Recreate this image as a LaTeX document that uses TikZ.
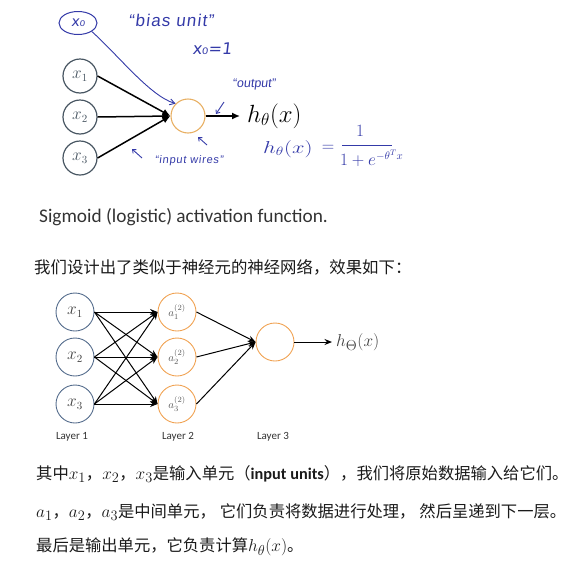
\documentclass[tikz,border=0pt]{standalone}
\usepackage{fontspec}
\usepackage{amsmath}
\newfontfamily\cjk{Noto Sans CJK SC}
\newfontfamily\calibri{Carlito}
\newfontfamily\hand[FakeSlant=0.12]{Liberation Sans}
\newfontfamily\handw[FakeSlant=0.12,LetterSpace=7]{Liberation Sans}
\newfontfamily\handd[FakeSlant=0.12]{DejaVu Sans}
\newcommand{\mth}[1]{{\fontsize{19}{19}\selectfont$#1$}}
\usetikzlibrary{arrows.meta,shapes.geometric}
\definecolor{handblue}{RGB}{52,58,168}
\definecolor{slate}{RGB}{72,86,98}
\definecolor{topor}{RGB}{232,176,100}
\definecolor{l1blue}{RGB}{84,108,140}
\definecolor{orng}{RGB}{240,162,82}
\definecolor{txt}{RGB}{26,26,26}
\tikzset{
  topin/.style={circle, draw=slate, line width=1.2pt, minimum size=34pt, inner sep=0pt, text=slate, font=\fontsize{16}{16}\selectfont},
  topneuron/.style={circle, draw=topor, line width=1.1pt, minimum size=34pt, inner sep=0pt},
  toparrow/.style={line width=1.5pt, -{Latex[length=8pt,width=7pt]}},
  handline/.style={draw=handblue, line width=0.9pt},
  handtext/.style={text=handblue, inner sep=0pt},
  inl/.style={circle, draw=l1blue, line width=0.9pt, minimum size=38pt, inner sep=0pt, text=black!75, font=\fontsize{16}{16}\selectfont},
  hid/.style={circle, draw=orng, line width=0.9pt, minimum size=38pt, inner sep=0pt, text=black!65, font=\fontsize{11}{11}\selectfont},
  net/.style={line width=1pt, -{Stealth[length=7.5pt,width=6pt]}},
  layerlbl/.style={font=\calibri\fontsize{11}{11}\selectfont, text=black!80, inner sep=0pt},
  line/.style={anchor=west, inner sep=0pt, text=txt, font=\cjk\fontsize{16.3}{18}\selectfont},
}
\begin{document}
\begin{tikzpicture}[x=1pt,y=-1pt]
\useasboundingbox (0,0) rectangle (570,560);
% ---------- top hand-annotated figure ----------
\node[ellipse, draw=handblue, line width=1pt, minimum width=38pt, minimum height=23pt, inner sep=0pt, text=handblue, font=\handd\fontsize{14}{14}\selectfont] (x0) at (78,23) {x₀};
\node[topin] (t1) at (80,76) {$x_1$};
\node[topin] (t2) at (80,117) {$x_2$};
\node[topin] (t3) at (80,158) {$x_3$};
\node[topneuron] (n) at (188,116) {};
\draw[toparrow] (t1.east) -- (n.west);
\draw[toparrow] (t2.east) -- (n.west);
\draw[toparrow] (t3.east) -- (n.west);
\coordinate (hout) at (240,116);
\draw[toparrow] (n.east) -- (hout);
\node[anchor=west, inner sep=0pt, font=\fontsize{25}{25}\selectfont] (hth) at (247,116) {$h_\theta(x)$};
\draw[handline, -{Straight Barb[length=5pt,width=6pt]}] (x0.south east) .. controls (118,55) and (150,96) .. (n.north west);
\node[handtext, font=\handw\fontsize{17}{17}\selectfont] (bias) at (171,20) {“bias unit”};
\node[handtext, font=\handd\fontsize{16}{16}\selectfont] (xeq) at (212,49) {x₀=1};
\node[handtext, font=\hand\fontsize{12.5}{12.5}\selectfont] (outl) at (254,84) {“output”};
\coordinate (oa1) at (224,102); \coordinate (oa2) at (216,114);
\draw[handline, -{Straight Barb[length=3pt,width=5pt]}] (oa1) -- (oa2);
\coordinate (ia1) at (207,145); \coordinate (ia2) at (198,137);
\draw[handline, -{Straight Barb[length=3pt,width=5pt]}] (ia1) -- (ia2);
\coordinate (wa1) at (142,158); \coordinate (wa2) at (132,149);
\draw[handline, -{Straight Barb[length=3pt,width=5pt]}] (wa1) -- (wa2);
\node[handtext, font=\handw\fontsize{11}{11}\selectfont] (wires) at (189,161) {“input wires”};
\node[handtext, anchor=west, font=\fontsize{17}{17}\selectfont] (hform) at (263,149) {\scalebox{1.3}[1]{$h_{\theta}(x)$}};
\node[handtext, font=\fontsize{17}{17}\selectfont] (heq) at (328,148) {$=$};
\coordinate (fb1) at (342,145); \coordinate (fb2) at (392,145);
\draw[handline] (fb1) -- (fb2);
\node[handtext, font=\fontsize{16}{16}\selectfont] (fnum) at (360,131) {$1$};
\node[handtext, anchor=west, font=\fontsize{16}{16}\selectfont] (fden) at (340,158) {$1+e^{-\theta^{T}x}$};
\node[anchor=west, inner sep=0pt, text=black!80, font=\calibri\fontsize{19.3}{20}\selectfont] (cap) at (39,217) {Sigmoid (logistic) activation function.};
% ---------- sentence ----------
\node[line, font=\cjk\fontsize{16.4}{18}\selectfont] (s0) at (34,267) {我们设计出了类似于神经元的神经网络，效果如下：};
% ---------- network ----------
\node[inl] (x1) at (75,312) {$x_1$};
\node[inl] (x2) at (75,357) {$x_2$};
\node[inl] (x3) at (75,404) {$x_3$};
\node[hid] (a1) at (177,312) {$a^{(2)}_1$};
\node[hid] (a2) at (177,357) {$a^{(2)}_2$};
\node[hid] (a3) at (177,404) {$a^{(2)}_3$};
\node[hid] (o) at (275,342) {};
\foreach \i in {1,2,3}{
  \foreach \j in {1,2,3}{
    \draw[net] (x\i.east) -- (a\j.west);
  }
  \draw[net] (a\i.east) -- (o.west);
}
\coordinate (hend) at (332,342);
\draw[net] (o.east) -- (hend);
\node[anchor=west, inner sep=0pt, font=\fontsize{19}{19}\selectfont, text=black!75] (hTheta) at (336,342) {$h_\Theta(x)$};
\node[layerlbl] (L1) at (72,437) {Layer 1};
\node[layerlbl] (L2) at (178,437) {Layer 2};
\node[layerlbl] (L3) at (273,437) {Layer 3};
% ---------- explanation lines ----------
\node[line] (s1) at (36,474) {其中\mth{x_1}，\mth{x_2}，\mth{x_3}是输入单元（{\calibri\bfseries input units}），我们将原始数据输入给它们。};
\node[line] (s2) at (36,512) {\mth{a_1}，\mth{a_2}，\mth{a_3}是中间单元，\hspace{4pt}它们负责将数据进行处理，\hspace{4pt}然后呈递到下一层。};
\node[line] (s3) at (36,547) {最后是输出单元，它负责计算\mth{h_\theta(x)}。};
\end{tikzpicture}
\end{document}
